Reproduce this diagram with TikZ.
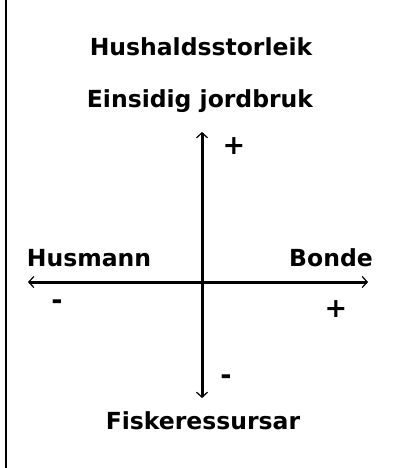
\documentclass[tikz,border=0pt]{standalone}
\usepackage{fontspec}
\setmainfont{DejaVu Sans}
\usetikzlibrary{arrows.meta}
\begin{document}
\begin{tikzpicture}[x=1pt,y=-1pt,
  lbl/.style={font=\fontsize{23.5}{26}\selectfont\bfseries, inner sep=0pt, anchor=base},
  sign/.style={font=\fontsize{27}{30}\selectfont\bfseries, inner sep=0pt, anchor=center},
  tip/.tip={Straight Barb[length=5pt,width=11pt,line width=1.2pt]},
  axis/.style={line width=3pt, tip-tip}]
\useasboundingbox (0,0) rectangle (418,468);
\fill[white] (0,0) rectangle (418,468);
\coordinate (bt) at (6,0);
\coordinate (bb) at (6,468);
\draw[line width=2pt] (bt) -- (bb);
\node[lbl] (title) at (201,56) {Hushaldsstorleik};
\node[lbl] (top) at (200,107) {Einsidig jordbruk};
\node[lbl] (left) at (89,266) {Husmann};
\node[lbl] (right) at (331,266) {Bonde};
\node[lbl] (bottom) at (203,429) {Fiskeressursar};
\coordinate (vt) at (202,132);
\coordinate (vb) at (202,398);
\coordinate (hl) at (28,282);
\coordinate (hr) at (368,282);
\draw[axis] (vb) -- (vt);
\draw[axis] (hl) -- (hr);
\node[sign] (ptop) at (234,146) {+};
\node[sign] (mleft) at (57,305) {-};
\node[sign] (pright) at (336,309) {+};
\node[sign] (mbottom) at (226,380) {-};
\end{tikzpicture}
\end{document}
